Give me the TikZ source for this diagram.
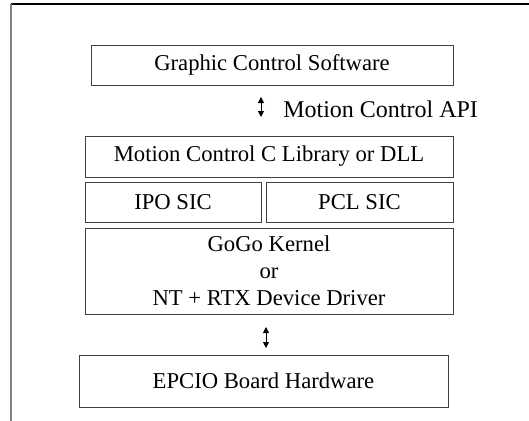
\documentclass[tikz,border=0pt]{standalone}
\usepackage{fontspec}
\setmainfont{Liberation Serif}
\usepackage{tikz}
\usetikzlibrary{arrows.meta, positioning}

\begin{document}
\begin{tikzpicture}[x=0.75pt, y=-0.75pt,
    layer/.style={draw=black!75, line width=0.75pt, inner sep=0pt, align=center,
      font=\fontsize{17}{20.3}\selectfont},
    updown/.style={{Triangle[length=4.5pt,width=4.5pt]}-{Triangle[length=4.5pt,width=4.5pt]}, line width=0.75pt}]
    \useasboundingbox (0,0) rectangle (529,421);

    % Frame (open at right and bottom)
    \draw[black, line width=1.2pt] (11,4) -- (529,4);
    \draw[black!50, line width=1.5pt] (11,4) -- (11,421);

    % Software layers
    \node[layer, minimum width=362*0.75pt, minimum height=40*0.75pt] (gcs) at (272,65) {Graphic Control Software};
    \node[layer, minimum width=368*0.75pt, minimum height=41*0.75pt] (mcl) at (269,156.5) {Motion Control C Library or DLL};
    \node[layer, minimum width=176*0.75pt, minimum height=40*0.75pt] (ipo) at (173,202) {IPO SIC};
    \node[layer, minimum width=187*0.75pt, minimum height=40*0.75pt] (pcl) at (359.5,202) {PCL SIC};
    \node[layer, minimum width=368*0.75pt, minimum height=86*0.75pt] (kernel) at (269,271) {GoGo Kernel\\or\\NT + RTX Device Driver};

    % Hardware
    \node[layer, minimum width=369*0.75pt, minimum height=52*0.75pt] (epcio) at (263.5,381) {EPCIO Board Hardware};

    % Interfaces
    \coordinate (apiTop) at (261,97);
    \coordinate (apiBot) at (261,117);
    \draw[updown] (apiTop) -- (apiBot);
    \node[font=\fontsize{18}{21}\selectfont, anchor=west, inner sep=0pt] (api) at (283,109) {Motion Control API};

    \coordinate (drvTop) at (266,327);
    \coordinate (drvBot) at (266,348);
    \draw[updown] (drvTop) -- (drvBot);
\end{tikzpicture}
\end{document}
